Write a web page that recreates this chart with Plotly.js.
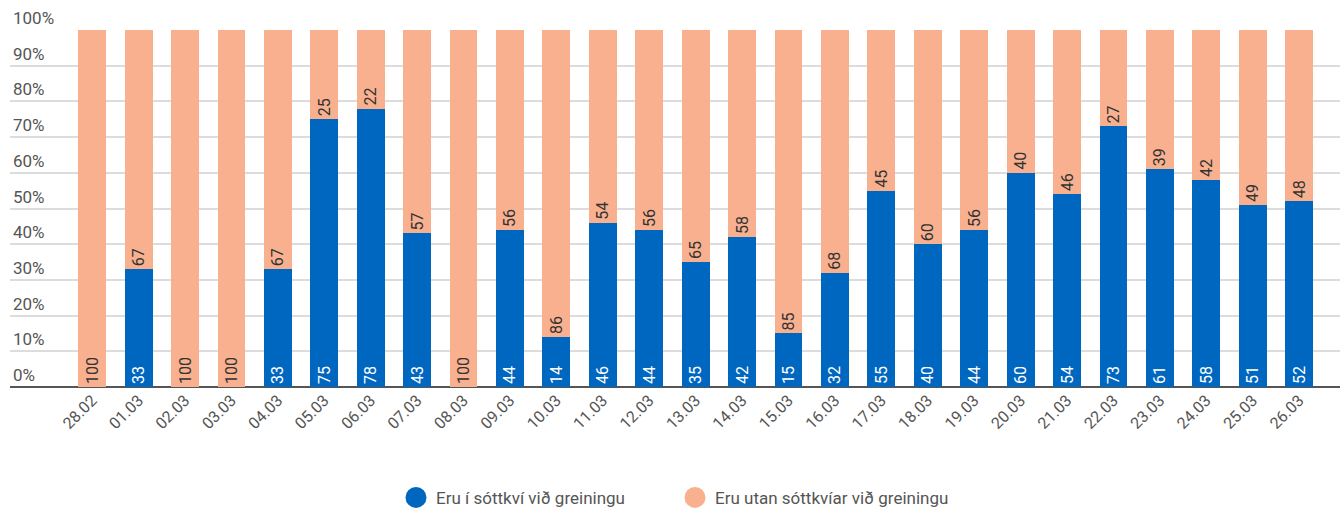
<!DOCTYPE html>
<html>
<head>
<meta charset="utf-8">
<script src="https://cdn.plot.ly/plotly-3.0.1.min.js"></script>
<style>html,body{margin:0;padding:0;background:#fff;}#chart{width:1340px;height:516px;}</style>
</head>
<body>
<div id="chart"></div>
<script>
var dates = ["28.02","01.03","02.03","03.03","04.03","05.03","06.03","07.03","08.03","09.03","10.03","11.03","12.03","13.03","14.03","15.03","16.03","17.03","18.03","19.03","20.03","21.03","22.03","23.03","24.03","25.03","26.03"];
var inQuarantine = [0,33,0,0,33,75,78,43,0,44,14,46,44,35,42,15,32,55,40,44,60,54,73,61,58,51,52];
var outsideQuarantine = [100,67,100,100,67,25,22,57,100,56,86,54,56,65,58,85,68,45,60,56,40,46,27,39,42,49,48];
var seriesNames = ["Eru í sóttkví við greiningu","Eru utan sóttkvíar við greiningu"];
var yTickVals = [0,10,20,30,40,50,60,70,80,90,100];
var yTickText = yTickVals.map(function(v){return v+"%";});

var BLUE = "#0067c0", ORANGE = "#f8b08f";
var FONT = "Roboto, 'Open Sans', sans-serif";

var traces = [
  {
    type: "bar", x: dates, y: inQuarantine, name: seriesNames[0], showlegend: false,
    marker: {color: BLUE},
    text: inQuarantine.map(function(v){return v > 0 ? String(v) : "";}),
    textposition: "inside", insidetextanchor: "start", textangle: -90,
    textfont: {color: "#ffffff", size: 16, family: FONT},
    constraintext: "none", cliponaxis: false, hoverinfo: "x+y"
  },
  {
    type: "bar", x: dates, y: outsideQuarantine, name: seriesNames[1], showlegend: false,
    marker: {color: ORANGE},
    text: outsideQuarantine.map(function(v){return v > 0 ? String(v) : "";}),
    textposition: "inside", insidetextanchor: "start", textangle: -90,
    textfont: {color: "#333333", size: 16, family: FONT},
    constraintext: "none", cliponaxis: false, hoverinfo: "x+y"
  },
  {
    type: "scatter", mode: "markers", x: [null], y: [null], name: seriesNames[0],
    marker: {color: BLUE, size: 16, symbol: "circle", line: {color: BLUE, width: 5}}
  },
  {
    type: "scatter", mode: "markers", x: [null], y: [null], name: seriesNames[1],
    marker: {color: ORANGE, size: 16, symbol: "circle", line: {color: ORANGE, width: 5}}
  }
];

var layout = {
  width: 1340, height: 516,
  margin: {l: 10, r: 0, t: 30, b: 129},
  barmode: "stack", bargap: 0.4,
  paper_bgcolor: "#fff", plot_bgcolor: "#fff",
  font: {family: FONT, color: "#555555", size: 16},
  xaxis: {
    type: "category", range: [-1.77, 26.88], automargin: false,
    tickangle: -45, tickfont: {size: 16, color: "#555"},
    showgrid: false, zeroline: false, showline: false, ticks: ""
  },
  yaxis: {
    range: [0, 100], tickvals: yTickVals, ticktext: yTickText, automargin: false,
    ticklabelposition: "inside top", ticklabeloverflow: "allow",
    tickfont: {size: 17, color: "#555"},
    showgrid: true, gridcolor: "#dcdcdc", gridwidth: 2,
    zeroline: true, zerolinecolor: "#555555", zerolinewidth: 2,
    showline: false, ticks: ""
  },
  legend: {
    orientation: "h", x: 0.5, xanchor: "center", y: -0.361, yanchor: "bottom",
    traceorder: "normal", entrywidth: 234, entrywidthmode: "pixels",
    font: {size: 17, color: "#555"}, itemclick: false
  },
  showlegend: true
};

Plotly.newPlot("chart", traces, layout, {displayModeBar: false, staticPlot: true});
</script>
</body>
</html>
